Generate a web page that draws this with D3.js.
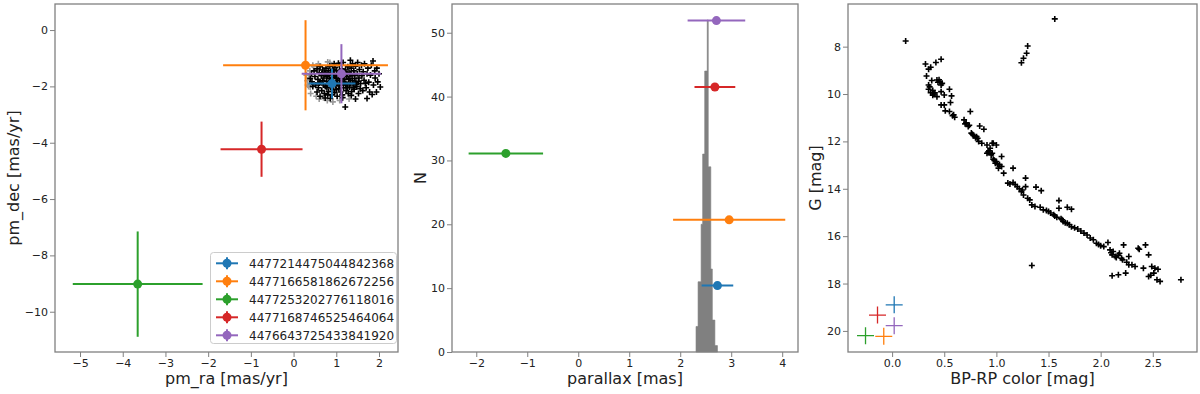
<!DOCTYPE html>
<html>
<head>
<meta charset="utf-8">
<script src="https://cdn.jsdelivr.net/npm/d3@7"></script>
<style>
  body { margin: 0; background: #fff; }
  svg { font-family: "DejaVu Sans", sans-serif; }
</style>
</head>
<body>
<svg id="fig" width="1200" height="394"></svg>
<script>
// ---- data ----
const sourceIds = ["4477214475044842368", "4477166581862672256", "4477253202776118016",
                   "4477168746525464064", "4476643725433841920"];
const sourceColors = ["#1f77b4", "#ff7f0e", "#2ca02c", "#d62728", "#9467bd"];

// proper motions of the 5 sources
const srcPmRa = [0.90, 0.28, -3.65, -0.75, 1.12];
const srcPmRaErr = [0.55, 1.93, 1.52, 0.96, 0.93];
const srcPmDec = [-1.90, -1.25, -9.02, -4.23, -1.55];
const srcPmDecErr = [0.53, 1.60, 1.87, 0.98, 1.05];

// parallaxes of the 5 sources, drawn at a fixed N level
const srcPlx = [2.73, 2.96, -1.42, 2.68, 2.71];
const srcPlxErr = [0.31, 1.10, 0.73, 0.40, 0.565];
const srcPlxLevel = [10.4, 20.7, 31.1, 41.5, 51.9];

// CMD positions of the 5 sources
const srcBpRp = [0.02, -0.08, -0.255, -0.14, 0.02];
const srcGmag = [18.9, 20.23, 20.2, 19.33, 19.78];

// cluster proper motions (gray = all candidates, black = members)
const pmGray = [[0.30,-1.60],[0.32,-1.80],[0.35,-2.00],[0.38,-1.45],[0.40,-2.25],[0.47,-1.30],
  [0.53,-2.35],[0.60,-2.45],[0.80,-1.13],[0.79,-2.50],[0.85,-1.15],[1.08,-2.50],[0.33,-1.95],
  [0.70,-2.40],[0.58,-1.20],[0.39,-2.02],[1.30,-2.45],[0.92,-2.55],[0.36,-1.70],[0.45,-1.25]];
const pmBlack = [[0.39,-1.72],[0.43,-1.84],[0.42,-1.55],[0.48,-1.45],[0.50,-1.65],[0.52,-1.95],
  [0.55,-1.38],[0.57,-1.75],[0.58,-2.05],[0.60,-1.52],[0.62,-1.30],[0.63,-1.85],[0.65,-1.62],
  [0.66,-2.15],[0.68,-1.42],[0.70,-1.95],[0.71,-1.70],[0.72,-2.25],[0.74,-2.41],[0.74,-1.55],
  [0.76,-1.35],[0.77,-1.82],[0.78,-2.05],[0.80,-1.60],[0.81,-1.45],[0.82,-2.18],[0.84,-1.72],
  [0.85,-1.28],[0.86,-2.43],[0.86,-1.95],[0.88,-1.52],[0.89,-2.30],[0.90,-1.68],[0.91,-1.40],
  [0.92,-2.10],[0.93,-1.85],[0.95,-1.58],[0.96,-2.22],[0.97,-1.32],[0.98,-1.98],[1.00,-1.72],
  [1.01,-1.45],[1.02,-2.35],[1.03,-1.90],[1.05,-1.60],[1.06,-2.08],[1.07,-1.25],[1.08,-1.78],
  [1.10,-2.20],[1.10,-1.50],[1.12,-1.95],[1.13,-1.38],[1.14,-2.30],[1.15,-1.70],[1.16,-1.15],
  [1.17,-2.05],[1.18,-1.58],[1.20,-1.85],[1.21,-2.73],[1.22,-1.42],[1.23,-2.15],[1.24,-1.65],
  [1.25,-1.95],[1.27,-1.30],[1.28,-2.25],[1.29,-1.75],[1.30,-1.50],[1.31,-2.02],[1.33,-1.07],
  [1.33,-1.88],[1.35,-1.35],[1.36,-2.18],[1.37,-1.62],[1.38,-1.20],[1.40,-1.95],[1.41,-1.45],
  [1.42,-2.10],[1.43,-1.72],[1.45,-1.28],[1.46,-1.85],[1.48,-2.00],[1.49,-1.55],[1.50,-1.15],
  [1.52,-2.25],[1.53,-1.70],[1.54,-1.40],[1.56,-2.08],[1.57,-1.90],[1.59,-1.25],[1.60,-1.62],
  [1.62,-2.15],[1.63,-1.48],[1.65,-1.78],[1.66,-1.20],[1.68,-1.90],[1.70,-2.05],[1.72,-2.43],
  [1.72,-1.55],[1.74,-1.35],[1.76,-1.85],[1.78,-2.20],[1.80,-1.60],[1.82,-1.25],[1.84,-2.29],
  [1.86,-1.10],[1.87,-1.95],[1.90,-1.45],[1.91,-1.70],[1.94,-2.20],[1.95,-1.35],[1.97,-1.84],
  [2.00,-1.55],[2.03,-2.02],[0.45,-2.00],[0.55,-2.20],[0.62,-2.35],[0.80,-2.30],[1.00,-2.12],
  [1.15,-2.40],[1.35,-2.32],[1.45,-2.45],[0.95,-1.20],[1.05,-1.18],[0.72,-1.50],[0.78,-1.65],
  [0.83,-1.88],[0.87,-1.78],[0.92,-1.55],[0.98,-1.62],[1.03,-1.78],[1.08,-1.95],[1.12,-1.62],
  [1.18,-1.75],[1.22,-1.92],[1.26,-1.58],[1.32,-1.72],[1.38,-1.80],[1.43,-1.60],[1.47,-1.92],
  [0.68,-1.80],[0.75,-2.00],[0.88,-2.05],[0.94,-1.42],[1.06,-1.50],[1.14,-1.85],[1.26,-2.05],
  [1.34,-1.55],[1.52,-1.82],[0.60,-1.88],[0.66,-1.55],[1.00,-1.90],[1.20,-1.48],[1.40,-2.05]];

// parallax histogram of members
const plxBinEdges = [2.31, 2.35, 2.41, 2.44, 2.48, 2.53, 2.55, 2.60, 2.63, 2.68, 2.73];
const plxCounts = [4, 11, 20, 31, 44, 52, 29, 13, 5, 1];

// colour-magnitude diagram of members [BP-RP, G]
const cmdStars = [[0.13,7.76],[1.56,6.83],[1.30,7.97],[1.29,8.28],[1.26,8.49],[1.24,8.68],
  [0.32,8.73],[0.35,8.95],[0.37,8.87],[0.42,8.67],[0.47,8.53],[0.33,9.24],[0.38,9.43],[0.43,9.41],
  [0.46,9.48],[0.48,9.55],[0.45,9.40],[0.47,9.62],[0.35,9.62],[0.35,9.80],[0.37,9.94],[0.40,10.00],
  [0.43,10.11],[0.47,9.90],[0.50,10.04],[0.55,9.80],[0.57,10.08],[0.56,10.36],[0.47,10.46],
  [0.50,10.46],[0.51,10.71],[0.55,10.74],[0.59,10.88],[0.60,10.98],[0.39,9.85],[0.41,9.95],
  [0.36,9.70],[0.44,9.50],[0.39,10.05],[0.58,10.92],
  [0.75,10.74],[0.69,11.09],[0.70,11.26],[0.71,11.22],[0.73,11.37],[0.74,11.32],[0.76,11.65],
  [0.77,11.70],[0.84,11.35],[0.88,11.49],[0.81,11.80],[0.82,11.87],[0.83,12.00],[0.86,12.08],
  [0.91,12.15],[0.94,12.29],[0.96,12.08],[0.97,12.08],[1.00,12.15],[0.96,12.50],[0.99,12.92],
  [1.05,12.64],[1.02,13.13],[1.07,13.34],[1.16,13.13],[0.91,12.50],[0.95,12.57],[0.97,12.75],
  [1.00,12.85],[1.03,12.99],[1.05,13.06],[0.93,12.40],[0.98,12.80],[1.01,12.95],[0.78,11.75],
  [0.80,11.85],[0.92,12.45],
  [1.11,13.76],[1.16,13.74],[1.20,13.91],[1.24,14.12],[1.28,13.55],[1.28,13.91],[1.26,14.26],
  [1.32,14.47],[1.38,13.93],[1.43,14.08],[1.34,14.68],[1.37,14.75],[1.42,14.78],[1.60,14.50],
  [1.60,14.82],[1.68,14.78],[1.72,14.86],[1.45,14.89],[1.50,14.96],[1.55,15.10],[1.58,15.20],
  [1.63,15.31],[1.66,15.43],[1.72,15.60],[1.78,15.70],[1.84,15.87],[1.90,16.08],[1.96,16.30],
  [2.03,16.44],[2.07,16.27],[1.18,13.82],[1.22,14.00],[1.25,14.05],[1.30,14.40],[1.13,13.80],
  [1.48,14.92],[1.52,15.02],[1.56,15.15],[1.62,15.26],[1.64,15.38],[1.68,15.45],[1.70,15.52],
  [1.75,15.65],[1.81,15.78],[1.87,15.95],[1.93,16.15],[1.98,16.35],[2.00,16.40],
  [2.09,16.58],[2.11,16.79],[2.14,16.86],[2.18,16.72],[2.20,16.93],[2.22,16.37],[2.27,16.86],
  [2.27,17.21],[2.30,17.21],[2.33,17.28],[2.36,16.51],[2.43,16.37],[2.46,16.79],[2.41,17.35],
  [2.49,17.28],[2.52,17.35],[2.46,17.70],[2.51,17.56],[2.54,17.84],[2.57,17.91],[2.77,17.84],
  [2.11,17.67],[2.17,17.63],[2.24,17.56],[1.34,17.24],[2.12,16.65],[2.15,16.90],[2.21,17.00],
  [2.25,17.10],[2.10,16.70],[2.17,16.80],[2.37,16.55],[2.48,17.65],[2.55,17.40]];

// ticks
const pmRaTicks = [-5, -4, -3, -2, -1, 0, 1, 2];
const pmDecTicks = [-10, -8, -6, -4, -2, 0];
const plxTicks = [-2, -1, 0, 1, 2, 3, 4];
const nTicks = [0, 10, 20, 30, 40, 50];
const bprpTicks = [0, 0.5, 1, 1.5, 2, 2.5];
const gTicks = [8, 10, 12, 14, 16, 18, 20];

// ---- drawing ----
const svg = d3.select("#fig");
const topY = 4, bottomY = 352;
const spine = "#808080", txt = "#222";
const plusPath = "M-3,0H3M0,-3V3";

function frame(x0, x1, xs, ys, xt, yt, xfmt, xlabel, ylabel, ylabelX) {
  const g = svg.append("g");
  const xa = d3.axisBottom(xs).tickValues(xt).tickSize(5).tickPadding(2).tickFormat(xfmt);
  const ya = d3.axisLeft(ys).tickValues(yt).tickSize(5).tickPadding(2).tickFormat(d3.format("d"));
  const gx = g.append("g").attr("transform", `translate(0,${bottomY})`).call(xa);
  const gy = g.append("g").attr("transform", `translate(${x0},0)`).call(ya);
  [gx, gy].forEach(a => {
    a.select(".domain").remove();
    a.selectAll(".tick line").attr("stroke", spine).attr("stroke-width", 1);
    a.selectAll(".tick text").attr("fill", txt).style("font-size", "11px")
      .style("font-family", "DejaVu Sans");
  });
  g.append("rect").attr("x", x0).attr("y", topY).attr("width", x1 - x0).attr("height", bottomY - topY)
    .attr("fill", "none").attr("stroke", spine).attr("stroke-width", 1.3);
  g.append("text").attr("x", (x0 + x1) / 2).attr("y", 384).attr("text-anchor", "middle")
    .attr("fill", txt).style("font-size", "16px").text(xlabel);
  g.append("text").attr("transform", `translate(${ylabelX},${(topY + bottomY) / 2}) rotate(-90)`)
    .attr("text-anchor", "middle").attr("fill", txt).style("font-size", "16px").text(ylabel);
  return g;
}

function errbar(g, cx, cy, x0, x1, y0, y1, color) {
  g.append("line").attr("x1", x0).attr("x2", x1).attr("y1", cy).attr("y2", cy)
    .attr("stroke", color).attr("stroke-width", 2);
  if (y0 !== null) {
    g.append("line").attr("x1", cx).attr("x2", cx).attr("y1", y0).attr("y2", y1)
      .attr("stroke", color).attr("stroke-width", 2);
  }
  g.append("circle").attr("cx", cx).attr("cy", cy).attr("r", 4.5).attr("fill", color);
}

// panel 1: proper motions
{
  const x0 = 55, x1 = 398;
  const xs = d3.scaleLinear().domain([-5.586, 2.445]).range([x0, x1]);
  const ys = d3.scaleLinear().domain([-11.43, 0.925]).range([bottomY, topY]);
  frame(x0, x1, xs, ys, pmRaTicks, pmDecTicks, d3.format("d"), "pm_ra [mas/yr]", "pm_dec [mas/yr]", 19);
  const g = svg.append("g");
  g.selectAll("path.gray").data(pmGray).join("path").attr("class", "gray")
    .attr("d", plusPath).attr("transform", d => `translate(${xs(d[0])},${ys(d[1])})`)
    .attr("stroke", "#9a9a9a").attr("stroke-width", 1.6);
  g.selectAll("path.blk").data(pmBlack).join("path").attr("class", "blk")
    .attr("d", plusPath).attr("transform", d => `translate(${xs(d[0])},${ys(d[1])})`)
    .attr("stroke", "#000").attr("stroke-width", 1.6);
  sourceIds.forEach((id, i) => {
    errbar(g, xs(srcPmRa[i]), ys(srcPmDec[i]),
      xs(srcPmRa[i] - srcPmRaErr[i]), xs(srcPmRa[i] + srcPmRaErr[i]),
      ys(srcPmDec[i] + srcPmDecErr[i]), ys(srcPmDec[i] - srcPmDecErr[i]), sourceColors[i]);
  });
  // legend
  const lg = svg.append("g");
  lg.append("rect").attr("x", 210.5).attr("y", 252.5).attr("width", 186).attr("height", 91)
    .attr("rx", 3).attr("fill", "#fff").attr("fill-opacity", 0.8)
    .attr("stroke", "#cccccc").attr("stroke-width", 1);
  sourceIds.forEach((id, i) => {
    const y = 263.3 + i * 18;
    lg.append("line").attr("x1", 216).attr("x2", 238).attr("y1", y).attr("y2", y)
      .attr("stroke", sourceColors[i]).attr("stroke-width", 2);
    lg.append("line").attr("x1", 227).attr("x2", 227).attr("y1", y - 6).attr("y2", y + 6)
      .attr("stroke", sourceColors[i]).attr("stroke-width", 2);
    lg.append("circle").attr("cx", 227).attr("cy", y).attr("r", 4.5).attr("fill", sourceColors[i]);
    lg.append("text").attr("x", 249).attr("y", y + 4.3).attr("fill", txt)
      .style("font-size", "12px").text(id);
  });
}

// panel 2: parallax histogram
{
  const x0 = 452, x1 = 798;
  const xs = d3.scaleLinear().domain([-2.476, 4.31]).range([x0, x1]);
  const ys = d3.scaleLinear().domain([0, 54.5]).range([bottomY, topY]);
  frame(x0, x1, xs, ys, plxTicks, nTicks, d3.format("d"), "parallax [mas]", "N", 426);
  const g = svg.append("g");
  // histogram as one stepped outline so adjacent bins leave no seams
  const steps = [];
  plxCounts.forEach((c, i) => {
    steps.push([xs(plxBinEdges[i]), ys(c)], [xs(plxBinEdges[i + 1]), ys(c)]);
  });
  const histPath = d3.line()([[xs(plxBinEdges[0]), ys(0)], ...steps,
                               [xs(plxBinEdges[plxBinEdges.length - 1]), ys(0)]]) + "Z";
  g.append("path").attr("d", histPath).attr("fill", "#808080")
    .attr("stroke", "#808080").attr("stroke-width", 0.6);
  sourceIds.forEach((id, i) => {
    errbar(g, xs(srcPlx[i]), ys(srcPlxLevel[i]),
      xs(srcPlx[i] - srcPlxErr[i]), xs(srcPlx[i] + srcPlxErr[i]), null, null, sourceColors[i]);
  });
}

// panel 3: colour-magnitude diagram
{
  const x0 = 848, x1 = 1197;
  const xs = d3.scaleLinear().domain([-0.423, 2.924]).range([x0, x1]);
  const ys = d3.scaleLinear().domain([6.2, 20.89]).range([topY, bottomY]);
  frame(x0, x1, xs, ys, bprpTicks, gTicks, d3.format(".1f"), "BP-RP color [mag]", "G [mag]", 821);
  const g = svg.append("g");
  g.selectAll("path.star").data(cmdStars).join("path").attr("class", "star")
    .attr("d", plusPath).attr("transform", d => `translate(${xs(d[0])},${ys(d[1])})`)
    .attr("stroke", "#000").attr("stroke-width", 1.6);
  g.selectAll("path.src").data(srcBpRp).join("path").attr("class", "src")
    .attr("d", "M-8.5,0H8.5M0,-8.5V8.5")
    .attr("transform", (d, i) => `translate(${xs(d)},${ys(srcGmag[i])})`)
    .attr("stroke", (d, i) => sourceColors[i]).attr("stroke-width", 1.3);
}
</script>
</body>
</html>
